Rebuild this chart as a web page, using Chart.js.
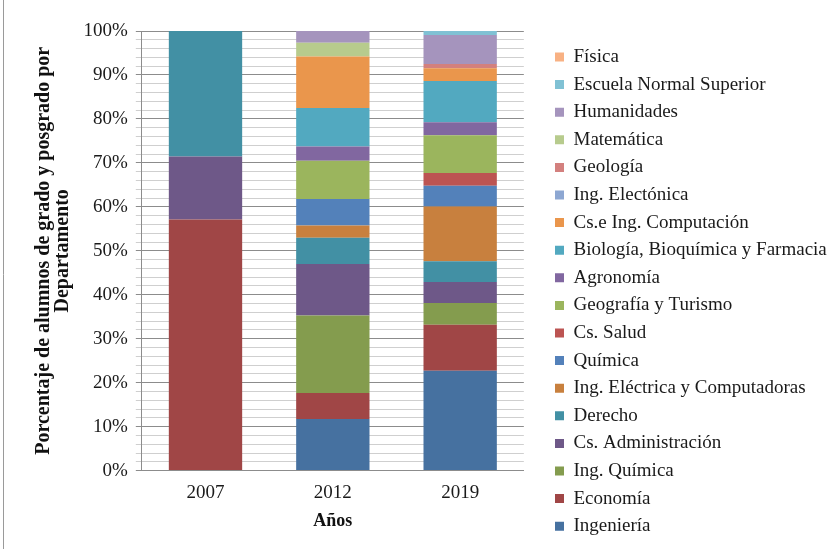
<!DOCTYPE html>
<html>
<head>
<meta charset="utf-8">
<script src="https://cdn.jsdelivr.net/npm/chart.js@4.4.1/dist/chart.umd.min.js"></script>
<style>
  html, body { margin: 0; padding: 0; background: #ffffff; }
  #wrap { width: 829px; height: 549px; }
</style>
</head>
<body>
<div id="wrap"><canvas id="c" width="829" height="549"></canvas></div>
<script>
// ---- data ----
const categories = ['2007', '2012', '2019'];
const seriesNames = [
  'Ingeniería', 'Economía', 'Ing. Química', 'Cs. Administración', 'Derecho',
  'Ing. Eléctrica y Computadoras', 'Química', 'Cs. Salud', 'Geografía y Turismo',
  'Agronomía', 'Biología, Bioquímica y Farmacia', 'Cs.e Ing. Computación',
  'Ing. Electónica', 'Geología', 'Matemática', 'Humanidades',
  'Escuela Normal Superior', 'Física'
];
const ingenieria      = [0, 11.75, 22.7];
const economia        = [57.14, 5.9, 10.5];
const ingQuimica      = [0, 17.65, 4.9];
const csAdministracion= [14.29, 11.7, 4.8];
const derecho         = [28.57, 5.95, 4.7];
const ingElectrica    = [0, 2.8, 12.5];
const quimica         = [0, 6.05, 4.7];
const csSalud         = [0, 0, 2.9];
const geografia       = [0, 8.7, 8.6];
const agronomia       = [0, 3.2, 2.95];
const biologia        = [0, 8.8, 9.35];
const csComputacion   = [0, 11.7, 2.9];
const ingElectronica  = [0, 0, 0];
const geologia        = [0, 0, 1.0];
const matematica      = [0, 3.1, 0];
const humanidades     = [0, 2.7, 6.6];
const escuelaNormal   = [0, 0, 0.9];
const fisica          = [0, 0, 0];
const seriesValues = [ingenieria, economia, ingQuimica, csAdministracion, derecho,
  ingElectrica, quimica, csSalud, geografia, agronomia, biologia, csComputacion,
  ingElectronica, geologia, matematica, humanidades, escuelaNormal, fisica];
const yTickValues = [0, 10, 20, 30, 40, 50, 60, 70, 80, 90, 100];

// ---- styles ----
const colors = ['#4671A0', '#A04646', '#849C4E', '#6E5888', '#4290A4',
  '#C8803E', '#5381BA', '#BC5452', '#9BB55D', '#8167A0', '#52A9C0', '#EA964C',
  '#8DA7D2', '#D3807E', '#B7CB8D', '#A594BD', '#80C1D4', '#F8B183'];

const serif = "'Liberation Serif', 'Times New Roman', serif";

const datasets = seriesNames.map((name, i) => ({
  label: name,
  data: seriesValues[i],
  backgroundColor: colors[i],
  borderWidth: 0,
  stack: 's',
  categoryPercentage: 1.0,
  barPercentage: 0.576
}));

const frame = {
  id: 'frame',
  beforeDraw(chart) {
    const ctx = chart.ctx;
    ctx.save();
    ctx.strokeStyle = '#9a9a9a';
    ctx.lineWidth = 1;
    ctx.beginPath();
    ctx.moveTo(3.5, 0);
    ctx.lineTo(3.5, 549);
    ctx.stroke();
    ctx.restore();
  }
};

// place the (wide) legend in the free band to the right of the plot
const legendPlacer = {
  id: 'legendPlacer',
  afterLayout(chart) {
    const lg = chart.legend;
    if (!lg) return;
    lg.left = 546.4;
    lg.right = chart.width;
    lg.width = lg.right - lg.left;
    lg.top = 38.9;
    lg.bottom = chart.height;
    lg.height = lg.bottom - lg.top;
  }
};

new Chart(document.getElementById('c'), {
  type: 'bar',
  data: { labels: categories, datasets },
  plugins: [frame, legendPlacer],
  options: {
    responsive: false,
    animation: false,
    devicePixelRatio: 1,
    layout: { padding: { top: 31, left: 30, right: 0, bottom: 0 } },
    plugins: {
      tooltip: { enabled: false },
      legend: {
        position: 'right',
        align: 'start',
        reverse: true,
        labels: {
          boxWidth: 9,
          boxHeight: 9,
          padding: 8.6,
          color: '#1a1a1a',
          font: { family: serif, size: 19 }
        }
      }
    },
    scales: {
      x: {
        stacked: true,
        grid: { display: false, drawTicks: false },
        border: { display: true, color: '#8c8c8c', width: 1 },
        ticks: { color: '#1a1a1a', font: { family: serif, size: 19 }, padding: 11 },
        title: {
          display: true, text: 'Años', color: '#111',
          font: { family: serif, size: 18, weight: 'bold' },
          padding: { top: -5, bottom: 17 }
        }
      },
      y: {
        stacked: true,
        min: 0,
        max: 100,
        afterBuildTicks(scale) {
          const t = [];
          for (let v = 0; v <= 100; v += 2) t.push({ value: v });
          scale.ticks = t;
        },
        ticks: {
          autoSkip: false,
          padding: 8,
          color: '#1a1a1a',
          font: { family: serif, size: 19 },
          callback: (v) => yTickValues.includes(v) ? v + '%' : ''
        },
        grid: {
          drawTicks: true,
          tickLength: 6,
          color: (c) => (c.tick && yTickValues.includes(c.tick.value)) ? '#8c8c8c' : '#cfcfcf',
          tickColor: (c) => (c.tick && yTickValues.includes(c.tick.value)) ? '#8c8c8c' : '#cfcfcf',
          lineWidth: 1
        },
        border: { display: true, color: '#8c8c8c', width: 1 },
        title: {
          display: true,
          text: ['Porcentaje de alumnos de grado y posgrado por', 'Departamento'],
          color: '#111',
          font: { family: serif, size: 20, weight: 'bold', lineHeight: 0.92 },
          padding: { top: 4.8, bottom: 3.9 }
        }
      },
      gap: {
        position: 'right',
        display: true,
        grid: { display: false, drawTicks: false },
        border: { display: false },
        ticks: { display: false },
        afterFit(scale) { scale.width = 172; }
      }
    }
  }
});
</script>
</body>
</html>
